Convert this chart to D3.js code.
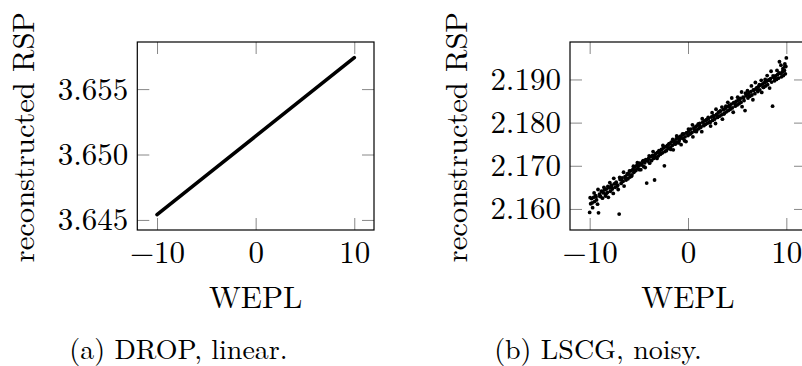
<!DOCTYPE html>
<html>
<head>
<meta charset="utf-8">
<script src="https://cdn.jsdelivr.net/npm/d3@7"></script>
<style>
  html, body { margin: 0; padding: 0; background: #fff; }
  svg { display: block; }
</style>
</head>
<body>
<svg id="chart" width="802" height="366"></svg>
<script>
// x ticks shared by both panels
const xTicks = [-10, 0, 10]

// (a) DROP, linear
const dropWepl = [-10, -5, 0, 5, 10]
const dropRsp = [3.6454, 3.6484, 3.6514, 3.6544, 3.6574]
const dropTicks = [3.645, 3.65, 3.655]

// (b) LSCG, noisy
const lscgWepl = [
  -10.0, -9.9, -9.8, -9.7, -9.6, -9.5, -9.4, -9.3, -9.2, -9.1,
  -9.0, -8.9, -8.8, -8.7, -8.6, -8.5, -8.4, -8.3, -8.2, -8.1,
  -8.0, -7.9, -7.8, -7.7, -7.6, -7.5, -7.4, -7.3, -7.2, -7.1,
  -7.0, -6.9, -6.8, -6.7, -6.6, -6.5, -6.4, -6.3, -6.2, -6.1,
  -6.0, -5.9, -5.8, -5.7, -5.6, -5.5, -5.4, -5.3, -5.2, -5.1,
  -5.0, -4.9, -4.8, -4.7, -4.6, -4.5, -4.4, -4.3, -4.2, -4.1,
  -4.0, -3.9, -3.8, -3.7, -3.6, -3.5, -3.4, -3.3, -3.2, -3.1,
  -3.0, -2.9, -2.8, -2.7, -2.6, -2.5, -2.4, -2.3, -2.2, -2.1,
  -2.0, -1.9, -1.8, -1.7, -1.6, -1.5, -1.4, -1.3, -1.2, -1.1,
  -1.0, -0.9, -0.8, -0.7, -0.6, -0.5, -0.4, -0.3, -0.2, -0.1,
  0.0, 0.1, 0.2, 0.3, 0.4, 0.5, 0.6, 0.7, 0.8, 0.9,
  1.0, 1.1, 1.2, 1.3, 1.4, 1.5, 1.6, 1.7, 1.8, 1.9,
  2.0, 2.1, 2.2, 2.3, 2.4, 2.5, 2.6, 2.7, 2.8, 2.9,
  3.0, 3.1, 3.2, 3.3, 3.4, 3.5, 3.6, 3.7, 3.8, 3.9,
  4.0, 4.1, 4.2, 4.3, 4.4, 4.5, 4.6, 4.7, 4.8, 4.9,
  5.0, 5.1, 5.2, 5.3, 5.4, 5.5, 5.6, 5.7, 5.8, 5.9,
  6.0, 6.1, 6.2, 6.3, 6.4, 6.5, 6.6, 6.7, 6.8, 6.9,
  7.0, 7.1, 7.2, 7.3, 7.4, 7.5, 7.6, 7.7, 7.8, 7.9,
  8.0, 8.1, 8.2, 8.3, 8.4, 8.5, 8.6, 8.7, 8.8, 8.9,
  9.0, 9.1, 9.2, 9.3, 9.4, 9.5, 9.6, 9.7, 9.8, 9.9,
  10.0, 9.95, 9.65, 9.85
]
const lscgRsp = [
  2.1592, 2.1612, 2.1624, 2.1603, 2.1627, 2.1617, 2.1631, 2.1621, 2.1611, 2.1591,
  2.1634, 2.1629, 2.1641, 2.1625, 2.1637, 2.1644, 2.1630, 2.1646, 2.1638, 2.1627,
  2.1649, 2.1641, 2.1655, 2.1646, 2.1636, 2.1658, 2.1650, 2.1662, 2.1653, 2.1645,
  2.1588, 2.1668, 2.1659, 2.1672, 2.1664, 2.1653, 2.1675, 2.1667, 2.1679, 2.1670,
  2.1681, 2.1674, 2.1688, 2.1679, 2.1692, 2.1685, 2.1697, 2.1689, 2.1701, 2.1694,
  2.1700, 2.1706, 2.1691, 2.1703, 2.1710, 2.1698, 2.1707, 2.1714, 2.1660, 2.1711,
  2.1717, 2.1706, 2.1721, 2.1712, 2.1724, 2.1717, 2.1667, 2.1728, 2.1719, 2.1731,
  2.1723, 2.1734, 2.1727, 2.1738, 2.1730, 2.1741, 2.1700, 2.1744, 2.1735, 2.1747,
  2.1740, 2.1751, 2.1742, 2.1755, 2.1747, 2.1737, 2.1757, 2.1750, 2.1762, 2.1754,
  2.1765, 2.1758, 2.1768, 2.1749, 2.1771, 2.1763, 2.1774, 2.1767, 2.1756, 2.1777,
  2.1770, 2.1781, 2.1774, 2.1785, 2.1777, 2.1767, 2.1788, 2.1780, 2.1791, 2.1783,
  2.1794, 2.1786, 2.1798, 2.1789, 2.1779, 2.1801, 2.1793, 2.1804, 2.1796, 2.1807,
  2.1799, 2.1810, 2.1802, 2.1792, 2.1813, 2.1805, 2.1816, 2.1808, 2.1798, 2.1819,
  2.1812, 2.1824, 2.1815, 2.1827, 2.1818, 2.1808, 2.1830, 2.1822, 2.1833, 2.1825,
  2.1837, 2.1828, 2.1840, 2.1831, 2.1843, 2.1834, 2.1824, 2.1846, 2.1838, 2.1849,
  2.1841, 2.1852, 2.1844, 2.1856, 2.1847, 2.1837, 2.1859, 2.1851, 2.1828, 2.1862,
  2.1866, 2.1857, 2.1869, 2.1861, 2.1872, 2.1864, 2.1853, 2.1875, 2.1867, 2.1878,
  2.1881, 2.1872, 2.1884, 2.1876, 2.1887, 2.1870, 2.1890, 2.1882, 2.1893, 2.1885,
  2.1896, 2.1888, 2.1899, 2.1880, 2.1902, 2.1894, 2.1838, 2.1905, 2.1897, 2.1908,
  2.1900, 2.1911, 2.1903, 2.1941, 2.1914, 2.1906, 2.1917, 2.1909, 2.1921, 2.1913,
  2.1950, 2.1930, 2.1925, 2.1936
]
// in-between samples of the same scan
const lscgWeplMid = [
  -9.95, -9.75, -9.55, -9.35, -9.15, -8.95, -8.75, -8.55, -8.35, -8.15,
  -7.95, -7.75, -7.55, -7.35, -7.15, -6.95, -6.75, -6.55, -6.35, -6.15,
  -5.95, -5.75, -5.55, -5.35, -5.15, -4.95, -4.75, -4.55, -4.35, -4.15,
  -3.95, -3.75, -3.55, -3.35, -3.15, -2.95, -2.75, -2.55, -2.35, -2.15,
  -1.95, -1.75, -1.55, -1.35, -1.15, -0.95, -0.75, -0.55, -0.35, -0.15,
  0.05, 0.25, 0.45, 0.65, 0.85, 1.05, 1.25, 1.45, 1.65, 1.85,
  2.05, 2.25, 2.45, 2.65, 2.85, 3.05, 3.25, 3.45, 3.65, 3.85,
  4.05, 4.25, 4.45, 4.65, 4.85, 5.05, 5.25, 5.45, 5.65, 5.85,
  6.05, 6.25, 6.45, 6.65, 6.85, 7.05, 7.25, 7.45, 7.65, 7.85,
  8.05, 8.25, 8.45, 8.65, 8.85, 9.05, 9.25, 9.45, 9.65, 9.85
]
const lscgRspMid = [
  2.1626, 2.1614, 2.1637, 2.1628, 2.1645, 2.1629, 2.1640, 2.1650, 2.1634, 2.1652,
  2.1661, 2.1650, 2.1671, 2.1660, 2.1655, 2.1673, 2.1667, 2.1685, 2.1671, 2.1682,
  2.1688, 2.1676, 2.1699, 2.1690, 2.1707, 2.1691, 2.1702, 2.1712, 2.1696, 2.1714,
  2.1723, 2.1712, 2.1733, 2.1722, 2.1717, 2.1735, 2.1729, 2.1747, 2.1733, 2.1744,
  2.1750, 2.1738, 2.1761, 2.1752, 2.1769, 2.1753, 2.1764, 2.1774, 2.1758, 2.1776,
  2.1785, 2.1774, 2.1795, 2.1784, 2.1779, 2.1797, 2.1791, 2.1809, 2.1795, 2.1806,
  2.1812, 2.1800, 2.1823, 2.1814, 2.1831, 2.1815, 2.1826, 2.1836, 2.1820, 2.1838,
  2.1847, 2.1836, 2.1857, 2.1846, 2.1841, 2.1859, 2.1853, 2.1871, 2.1857, 2.1868,
  2.1874, 2.1862, 2.1885, 2.1876, 2.1893, 2.1877, 2.1888, 2.1898, 2.1882, 2.1900,
  2.1909, 2.1898, 2.1919, 2.1908, 2.1903, 2.1921, 2.1915, 2.1933, 2.1919, 2.1930
]
const lscgTicks = [2.16, 2.17, 2.18, 2.19]

const svg = d3.select('#chart')
svg.append('rect').attr('width', 802).attr('height', 366).attr('fill', '#fff')

const serif = '"Latin Modern Roman", "Liberation Serif", serif'
const plotTop = 42
const plotBottom = 230
const tickLen = 12

function drawPanel(left, right, yDomain, yTicks) {
  const x = d3.scaleLinear().domain([-12, 12]).range([left, right])
  const y = d3.scaleLinear().domain(yDomain).range([plotBottom, plotTop])

  const g = svg.append('g')

  // bottom axis with labels
  g.append('g')
    .attr('transform', `translate(0,${plotBottom})`)
    .call(d3.axisBottom(x).tickValues(xTicks).tickSize(-tickLen).tickPadding(11).tickFormat(d3.format('d')))
  // top axis, ticks only
  g.append('g')
    .attr('transform', `translate(0,${plotTop})`)
    .call(d3.axisTop(x).tickValues(xTicks).tickSize(-tickLen).tickFormat(''))
  // left axis with labels
  g.append('g')
    .attr('transform', `translate(${left},0)`)
    .call(d3.axisLeft(y).tickValues(yTicks).tickSize(-tickLen).tickPadding(9).tickFormat(d3.format('.3f')))
  // right axis, ticks only
  g.append('g')
    .attr('transform', `translate(${right},0)`)
    .call(d3.axisRight(y).tickValues(yTicks).tickSize(-tickLen).tickFormat(''))

  g.selectAll('.domain').remove()
  g.selectAll('.tick line').attr('stroke', '#888').attr('stroke-width', 1)
  g.selectAll('.tick text').attr('fill', '#000').attr('font-family', null)
    .style('font-size', '31px').style('font-family', serif)

  // axis box
  g.append('rect')
    .attr('x', left).attr('y', plotTop)
    .attr('width', right - left).attr('height', plotBottom - plotTop)
    .attr('fill', 'none').attr('stroke', '#000').attr('stroke-width', 1.2)

  // y label
  g.append('text')
    .attr('transform', `translate(${left - 103.5},${(plotTop + plotBottom) / 2 + 1}) rotate(-90)`)
    .attr('text-anchor', 'middle')
    .style('font-size', '30.5px')
    .style('font-family', serif)
    .text('reconstructed RSP')

  // x label
  g.append('text')
    .attr('x', x(0)).attr('y', 308)
    .attr('text-anchor', 'middle')
    .style('font-size', '31px')
    .style('font-family', serif)
    .text('WEPL')

  return { g, x, y }
}

// panel (a)
const a = drawPanel(137.3, 374, [3.64423, 3.6586], dropTicks)
const line = d3.line().x((d) => a.x(d[0])).y((d) => a.y(d[1]))
a.g.append('path')
  .datum(d3.zip(dropWepl, dropRsp))
  .attr('fill', 'none')
  .attr('stroke', '#000')
  .attr('stroke-width', 3.6)
  .attr('stroke-linecap', 'round')
  .attr('d', line)

// panel (b)
const b = drawPanel(570, 806, [2.15512, 2.19868], lscgTicks)
const lscgPoints = d3.zip(lscgWepl, lscgRsp).concat(d3.zip(lscgWeplMid, lscgRspMid))
b.g.append('g')
  .selectAll('circle')
  .data(lscgPoints)
  .join('circle')
  .attr('cx', (d) => b.x(d[0]))
  .attr('cy', (d) => b.y(d[1]))
  .attr('r', 1.9)
  .attr('fill', '#000')

// captions
svg.append('text').attr('x', 178.5).attr('y', 359).attr('text-anchor', 'middle')
  .style('font-size', '28px').style('font-family', serif).text('(a) DROP, linear.')
svg.append('text').attr('x', 598).attr('y', 359).attr('text-anchor', 'middle')
  .style('font-size', '28px').style('font-family', serif).text('(b) LSCG, noisy.')
</script>
</body>
</html>
